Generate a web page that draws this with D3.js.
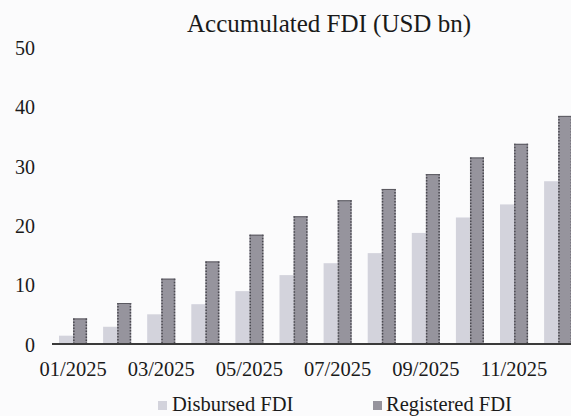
<!DOCTYPE html>
<html>
<head>
<meta charset="utf-8">
<script src="https://cdn.jsdelivr.net/npm/d3@7"></script>
<style>
  html, body { margin: 0; padding: 0; background: #fbfbfc; }
  svg { display: block; }
  svg text { font-family: 'Liberation Serif', 'Times New Roman', Tinos, 'DejaVu Serif', serif !important; fill: #1a1a1a; }
</style>
</head>
<body>
<svg id="chart" width="571" height="416" font-family="Liberation Serif, serif"></svg>
<script>
const months = ["01/2025","02/2025","03/2025","04/2025","05/2025","06/2025","07/2025","08/2025","09/2025","10/2025","11/2025","12/2025"];
const disbursed = [1.4, 2.9, 5.0, 6.7, 8.9, 11.6, 13.6, 15.3, 18.7, 21.3, 23.5, 27.4];
const registered = [4.3, 6.9, 11.0, 13.9, 18.4, 21.5, 24.2, 26.1, 28.6, 31.4, 33.7, 38.4];
const seriesNames = ["Disbursed FDI", "Registered FDI"];
const yTicks = [0, 10, 20, 30, 40, 50];
const xTickLabels = ["01/2025","03/2025","05/2025","07/2025","09/2025","11/2025"];
const title = "Accumulated FDI (USD bn)";

const colors = {"Disbursed FDI": "#d3d3dc", "Registered FDI": "#96949d"};
const FONT = "'Liberation Serif', 'Times New Roman', serif";

const svg = d3.select("#chart");
const W = 571, H = 416;

const y = d3.scaleLinear().domain([0, 50]).range([344, 47]);
const pI = 0.363;
const x = d3.scaleBand().domain(months).range([51, 51 + 12 * 44.1]).paddingInner(pI).paddingOuter(pI / 2);
const xs = d3.scaleBand().domain(seriesNames).range([0, x.bandwidth()]);

// title
svg.append("text").attr("x", 329).attr("y", 32).attr("text-anchor", "middle")
  .attr("font-family", FONT).style("font-size", "25px").text(title);

// y labels
const yAxis = d3.axisLeft(y).tickValues(yTicks).tickSize(0).tickPadding(0);
const gy = svg.append("g").attr("transform", "translate(35,0)").call(yAxis).attr("font-family", FONT);
gy.select(".domain").remove();
gy.selectAll("text").style("font-size", "20px").attr("fill", "#1a1a1a").attr("dy", "0.36em");

// bars
const data = months.map((m, i) => ({m, vals: [
  {s: "Disbursed FDI", v: disbursed[i]},
  {s: "Registered FDI", v: registered[i]}
]}));

const groups = svg.append("g").selectAll("g").data(data).join("g")
  .attr("transform", d => `translate(${x(d.m)},0)`);

groups.selectAll("rect").data(d => d.vals).join("rect")
  .attr("x", d => xs(d.s))
  .attr("y", d => y(d.v))
  .attr("width", xs.bandwidth())
  .attr("height", d => y(0) - y(d.v))
  .attr("fill", d => colors[d.s]);

// dotted edges on registered bars
groups.each(function(d) {
  const g = d3.select(this);
  const r = d.vals[1];
  const x0 = xs(r.s), x1 = xs(r.s) + xs.bandwidth();
  [x0 + 0.8, x1 - 0.8].forEach(xx => {
    g.append("line").attr("x1", xx).attr("x2", xx).attr("y1", y(r.v)).attr("y2", y(0))
      .attr("stroke", "#4a4950").attr("stroke-width", 1.5).attr("stroke-dasharray", "1.5,1.5");
  });
  g.append("line").attr("x1", x0).attr("x2", x1).attr("y1", y(r.v) + 0.5).attr("y2", y(r.v) + 0.5)
    .attr("stroke", "#5a5960").attr("stroke-width", 1);
});

// x axis
const xAxis = d3.axisBottom(x).tickValues(xTickLabels).tickSize(0).tickPadding(17).tickSizeOuter(0);
const gx = svg.append("g").attr("transform", `translate(0,${y(0)})`).call(xAxis).attr("font-family", FONT);
gx.select(".domain").attr("stroke", "#3a3a3a").attr("stroke-width", 2).attr("d", `M${x.range()[0] + 1},0H${W + 5}`);
gx.selectAll("text").style("font-size", "20.5px").attr("fill", "#1a1a1a");

// legend
const legendItems = [
  {name: seriesNames[0], sx: 158, tx: 172},
  {name: seriesNames[1], sx: 373, tx: 386}
];
const lg = svg.append("g").attr("font-family", FONT);
legendItems.forEach(it => {
  lg.append("rect").attr("x", it.sx).attr("y", 401).attr("width", 9).attr("height", 9)
    .attr("fill", colors[it.name]);
  lg.append("text").attr("x", it.tx).attr("y", 411).style("font-size", "20.5px").text(it.name);
});
</script>
</body>
</html>
